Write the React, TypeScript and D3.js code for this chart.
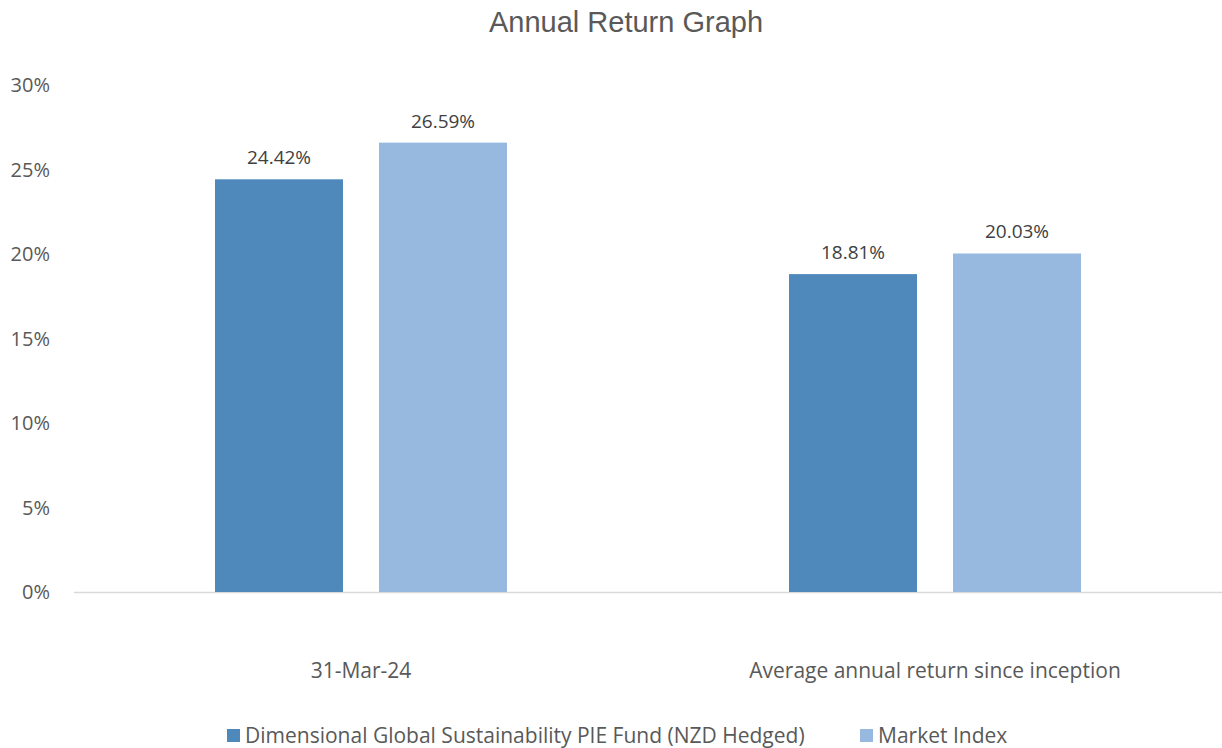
import { useEffect, useRef } from 'react'
import * as d3 from 'd3'

const categories = ['31-Mar-24', 'Average annual return since inception']
const seriesNames = ['Dimensional Global Sustainability PIE Fund (NZD Hedged)', 'Market Index']
const fundValues = [24.42, 18.81]
const indexValues = [26.59, 20.03]
const yTicks = [0, 5, 10, 15, 20, 25, 30]
const colors = ['#4F88BB', '#97B9E0']

const W = 1222
const H = 748

export default function App() {
  const svgRef = useRef<SVGSVGElement>(null)

  useEffect(() => {
    document.body.style.margin = '0'
    if (!svgRef.current) return
    const svg = d3.select(svgRef.current)
    svg.selectAll('*').remove()

    const margin = { top: 85, right: 0, bottom: 156, left: 74 }
    const font = "'Open Sans', 'Noto Sans', sans-serif"

    const x = d3.scaleBand<string>()
      .domain(categories)
      .range([margin.left, W - margin.right])

    const y = d3.scaleLinear()
      .domain([0, 30])
      .range([H - margin.bottom, margin.top])

    // inner scale for two series
    const barW = 128
    const gap = 36
    const inner = d3.scaleBand<number>()
      .domain([0, 1])
      .range([0, barW * 2 + gap])
      .paddingInner(gap / (barW + gap))
    const groupOffset = (x.bandwidth() - (barW * 2 + gap)) / 2

    // title
    svg.append('text')
      .attr('x', 626)
      .attr('y', 32)
      .attr('text-anchor', 'middle')
      .style('font-family', "'Liberation Sans', Arial, sans-serif")
      .style('font-size', '29px')
      .style('fill', '#595959')
      .text('Annual Return Graph')

    // y labels
    svg.append('g')
      .selectAll('text')
      .data(yTicks)
      .join('text')
      .attr('x', 50)
      .attr('y', d => y(d))
      .attr('dy', '0.35em')
      .attr('text-anchor', 'end')
      .style('font-family', font)
      .style('font-size', '20px')
      .style('fill', '#595959')
      .text(d => `${d}%`)

    // baseline
    svg.append('line')
      .attr('x1', margin.left)
      .attr('x2', W - margin.right)
      .attr('y1', y(0) + 0.5)
      .attr('y2', y(0) + 0.5)
      .attr('stroke', '#d9d9d9')
      .attr('stroke-width', 1.5)

    const series = [fundValues, indexValues]
    series.forEach((vals, si) => {
      const g = svg.append('g')
      g.selectAll('rect')
        .data(categories)
        .join('rect')
        .attr('x', c => (x(c) ?? 0) + groupOffset + (inner(si) ?? 0))
        .attr('y', (_, i) => y(vals[i]))
        .attr('width', inner.bandwidth())
        .attr('height', (_, i) => y(0) - y(vals[i]))
        .attr('fill', colors[si])

      g.selectAll('text')
        .data(categories)
        .join('text')
        .attr('x', c => (x(c) ?? 0) + groupOffset + (inner(si) ?? 0) + inner.bandwidth() / 2)
        .attr('y', (_, i) => y(vals[i]) - 15)
        .attr('text-anchor', 'middle')
        .style('font-family', font)
        .style('font-size', '19px')
        .style('fill', '#404040')
        .text((_, i) => `${vals[i].toFixed(2)}%`)
    })

    // category labels
    svg.append('g')
      .selectAll('text')
      .data(categories)
      .join('text')
      .attr('x', c => (x(c) ?? 0) + x.bandwidth() / 2)
      .attr('y', 678)
      .attr('text-anchor', 'middle')
      .style('font-family', font)
      .style('font-size', '21px')
      .style('fill', '#595959')
      .text(d => d)

    // legend
    const legendX = [227, 860]
    seriesNames.forEach((name, i) => {
      svg.append('rect')
        .attr('x', legendX[i])
        .attr('y', 729)
        .attr('width', 13)
        .attr('height', 13)
        .attr('fill', colors[i])
      svg.append('text')
        .attr('x', legendX[i] + 18)
        .attr('y', 743)
        .style('font-family', font)
        .style('font-size', '21px')
        .style('fill', '#595959')
        .text(name)
    })
  }, [])

  return (
    <div style={{ width: W, height: H }}>
      <svg ref={svgRef} width={W} height={H} style={{ display: 'block', background: '#fff' }} />
    </div>
  )
}
